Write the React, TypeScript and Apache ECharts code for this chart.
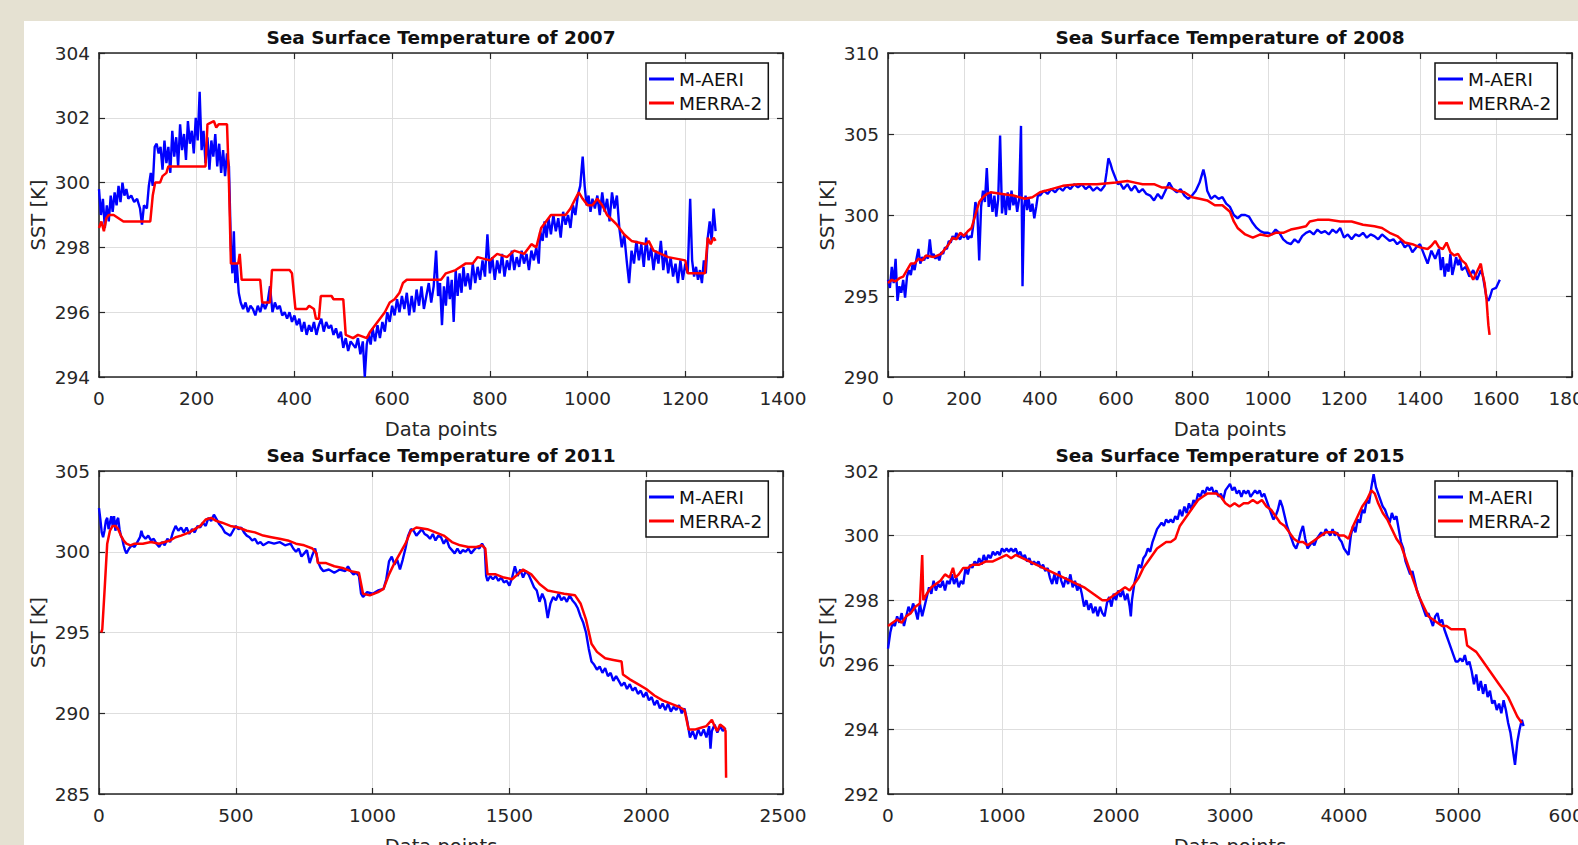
import React, { useEffect, useRef } from 'react';
import * as echarts from 'echarts';

// ---------- data ----------
const seriesNames = ['M-AERI', 'MERRA-2'];
const panelYears = ['2007', '2008', '2011', '2015'];
const xMaxes = [1400, 1800, 2500, 6000];
const xSteps = [200, 200, 500, 1000];
const yMins = [294, 290, 285, 292];
const yMaxes = [304, 310, 305, 302];
const ySteps = [2, 5, 5, 2];
const xAxisTitle = 'Data points';
const yAxisTitle = 'SST [K]';

const aeri2007: number[][] = [
  [0,299.8],[4,299.0],[8,299.5],[12,298.6],[16,299.3],[20,298.8],[24,299.6],[28,299.1],[32,299.7],[36,299.3],[40,299.9],[44,299.4],[48,300.0],[52,299.6],[56,299.8],[60,299.5],[66,299.6],[72,299.4],[78,299.5],[84,299.2],[88,298.7],[92,299.3],[98,299.2],[102,299.9],[106,300.3],[110,299.9],[114,301.1],[118,301.2],[122,300.9],[126,301.1],[130,300.4],[134,301.3],[138,300.6],[142,301.1],[146,300.3],[150,301.6],[154,300.8],[158,301.4],[162,300.5],[166,301.8],[170,301.0],[174,301.5],[178,300.7],[182,301.9],[186,301.2],[190,301.6],[194,300.9],[198,302.0],[202,301.3],[206,302.8],[210,301.0],[214,301.6],[218,300.6],[222,301.4],[226,300.4],[230,301.3],[234,300.8],[238,301.5],[242,300.5],[246,301.2],[250,300.3],[254,301.0],[258,300.2],[262,300.9],[266,300.5],[270,298.0],[273,297.2],[276,298.5],[279,296.9],[282,297.5],[286,296.6],[290,296.3],[295,296.1],[300,296.3],[305,296.0],[310,296.2],[315,296.1],[320,295.9],[325,296.2],[330,296.0],[335,296.3],[340,296.1],[345,296.3],[350,296.8],[355,296.0],[360,296.3],[365,296.1],[370,296.2],[375,295.9],[380,296.0],[385,295.8],[390,296.0],[395,295.7],[400,295.9],[405,295.6],[410,295.8],[415,295.4],[420,295.7],[425,295.3],[430,295.6],[435,295.4],[440,295.7],[445,295.3],[450,295.6],[455,295.8],[460,295.4],[465,295.7],[470,295.5],[475,295.6],[480,295.3],[485,295.5],[490,295.2],[495,295.4],[500,294.9],[505,295.2],[510,294.8],[515,295.1],[520,295.0],[525,294.9],[530,295.2],[535,294.7],[540,295.1],[544,294.0],[548,295.0],[552,295.3],[556,295.0],[560,295.5],[565,295.1],[570,295.6],[575,295.2],[580,295.7],[585,295.4],[590,296.0],[595,295.7],[600,296.2],[605,295.9],[610,296.4],[615,296.0],[620,296.5],[625,296.1],[630,296.6],[635,295.9],[640,296.5],[645,296.0],[650,296.7],[655,296.2],[660,296.8],[665,296.1],[670,296.5],[675,296.9],[680,296.3],[685,296.8],[690,297.9],[694,296.5],[698,296.9],[702,295.6],[706,296.8],[710,296.2],[714,297.1],[718,296.4],[722,297.0],[726,295.7],[730,297.3],[734,296.5],[738,297.2],[742,296.6],[746,297.4],[750,296.8],[755,297.2],[760,296.7],[765,297.5],[770,296.9],[775,297.4],[780,297.0],[785,297.6],[790,297.1],[795,298.4],[800,297.2],[805,297.7],[810,297.0],[815,297.6],[820,297.2],[825,297.8],[830,297.1],[835,297.6],[840,297.3],[845,297.9],[850,297.3],[855,297.7],[860,297.4],[865,297.9],[870,297.5],[875,297.8],[880,297.3],[885,297.9],[890,297.6],[895,298.0],[900,297.5],[903,298.5],[908,298.2],[912,298.8],[916,298.3],[920,298.9],[925,298.4],[930,299.0],[935,298.5],[940,298.9],[945,298.3],[950,299.1],[955,298.7],[960,299.0],[965,298.6],[970,299.3],[975,299.0],[980,299.6],[985,299.9],[990,300.8],[994,299.9],[998,299.3],[1002,299.6],[1006,299.1],[1010,299.5],[1015,299.2],[1020,299.6],[1025,299.0],[1030,299.7],[1035,299.1],[1040,299.5],[1045,298.8],[1050,299.7],[1055,299.2],[1060,299.6],[1065,298.6],[1070,298.0],[1075,298.4],[1080,297.6],[1085,296.9],[1090,297.9],[1095,297.5],[1100,298.2],[1105,297.6],[1110,298.1],[1115,297.4],[1120,298.3],[1125,297.6],[1130,298.0],[1135,297.3],[1140,297.9],[1145,297.5],[1150,298.2],[1155,297.3],[1160,297.9],[1165,297.2],[1170,297.7],[1175,297.1],[1180,297.5],[1185,296.9],[1190,297.6],[1195,297.0],[1200,297.5],[1205,297.2],[1210,299.5],[1214,297.6],[1218,297.1],[1222,297.4],[1226,297.0],[1230,297.3],[1234,296.9],[1238,297.6],[1242,297.2],[1246,298.3],[1250,298.8],[1254,298.2],[1258,299.2],[1262,298.5]
];
const merra2007: number[][] = [
  [0,298.6],[5,298.8],[10,298.5],[15,298.9],[20,299.0],[30,299.0],[40,298.9],[50,298.8],[105,298.8],[110,299.6],[115,300.0],[125,300.0],[130,300.2],[138,300.3],[142,300.5],[218,300.5],[222,301.8],[235,301.9],[240,301.7],[245,301.8],[262,301.8],[266,300.0],[270,297.5],[285,297.5],[288,297.8],[292,297.0],[330,297.0],[334,296.3],[350,296.3],[354,297.3],[390,297.3],[395,297.2],[402,296.1],[425,296.1],[430,296.2],[440,296.1],[444,295.8],[450,295.8],[454,296.5],[476,296.5],[480,296.4],[500,296.4],[505,295.3],[520,295.2],[530,295.3],[548,295.2],[555,295.4],[565,295.6],[575,295.8],[585,296.0],[595,296.3],[605,296.4],[615,296.6],[622,296.9],[630,297.0],[700,297.0],[710,297.2],[730,297.3],[750,297.5],[765,297.5],[775,297.7],[800,297.6],[815,297.8],[835,297.7],[850,297.9],[870,297.8],[885,298.1],[895,298.0],[905,298.6],[915,298.8],[925,299.0],[955,299.0],[965,299.2],[975,299.5],[982,299.7],[990,299.5],[1000,299.3],[1010,299.3],[1020,299.5],[1030,299.3],[1040,299.0],[1060,298.7],[1075,298.4],[1090,298.2],[1120,298.1],[1125,298.2],[1135,297.9],[1150,297.8],[1165,297.7],[1200,297.6],[1205,297.2],[1240,297.2],[1246,298.3],[1252,298.1],[1258,298.3],[1262,298.2]
];

const aeri2008: number[][] = [
  [0,296.0],[5,295.5],[10,296.8],[15,295.8],[20,297.3],[25,294.7],[30,295.6],[35,295.2],[40,296.0],[45,294.9],[50,296.2],[55,296.6],[60,296.3],[65,297.0],[70,296.6],[75,297.3],[80,297.9],[85,297.0],[90,297.4],[95,297.2],[100,297.5],[105,297.3],[110,298.5],[115,297.4],[120,297.6],[125,297.3],[130,297.5],[135,297.2],[140,297.7],[145,297.6],[150,298.0],[155,297.9],[160,298.4],[165,298.3],[170,298.7],[175,298.5],[180,298.9],[185,298.6],[190,298.5],[195,298.8],[200,298.6],[205,298.9],[210,298.5],[215,298.7],[220,298.6],[225,299.5],[230,300.8],[235,300.3],[240,297.2],[245,300.5],[250,301.5],[255,300.8],[260,302.9],[265,300.5],[270,301.4],[275,300.2],[280,301.2],[285,299.9],[290,301.0],[295,304.9],[300,300.1],[305,301.3],[310,300.0],[315,301.4],[320,300.3],[325,301.5],[330,300.6],[335,301.2],[340,300.2],[345,301.0],[350,305.5],[354,295.6],[358,300.5],[362,301.2],[366,300.3],[370,301.0],[375,300.2],[380,300.7],[385,299.8],[390,300.5],[395,301.3],[400,301.2],[410,301.5],[420,301.3],[430,301.6],[440,301.4],[450,301.7],[460,301.5],[470,301.8],[480,301.6],[490,301.9],[500,301.7],[510,301.9],[520,301.6],[530,301.8],[540,301.5],[550,301.7],[560,301.5],[570,301.8],[575,302.6],[580,303.5],[585,303.2],[590,302.8],[595,302.5],[600,302.2],[605,301.9],[610,302.0],[620,301.6],[630,301.9],[640,301.5],[650,301.8],[660,301.4],[670,301.6],[680,301.3],[690,301.2],[700,300.9],[710,301.3],[720,301.0],[730,301.5],[740,302.0],[750,301.6],[760,301.4],[770,301.6],[780,301.2],[790,301.0],[800,301.2],[810,301.5],[820,302.0],[830,302.8],[835,302.3],[840,301.5],[850,301.0],[860,301.2],[870,301.0],[880,301.1],[890,300.7],[900,300.5],[910,300.0],[920,299.8],[930,300.0],[940,300.0],[950,299.9],[960,299.5],[970,299.2],[980,299.0],[990,298.9],[1000,298.9],[1010,298.8],[1020,299.1],[1030,298.9],[1040,298.5],[1050,298.3],[1060,298.2],[1070,298.5],[1080,298.3],[1090,298.7],[1100,298.9],[1110,299.0],[1120,298.8],[1130,299.1],[1140,298.9],[1150,299.0],[1160,298.8],[1170,299.1],[1180,298.9],[1190,299.2],[1200,298.6],[1210,298.8],[1220,298.5],[1230,298.8],[1240,298.7],[1250,298.9],[1260,298.6],[1270,298.8],[1280,298.7],[1290,298.5],[1300,298.8],[1310,298.6],[1320,298.4],[1330,298.5],[1340,298.2],[1350,298.4],[1360,298.0],[1370,298.2],[1380,297.7],[1390,298.0],[1400,298.2],[1410,297.6],[1420,297.0],[1430,297.8],[1440,297.3],[1450,297.9],[1455,296.6],[1460,297.4],[1465,296.2],[1470,297.0],[1475,296.5],[1480,297.6],[1485,296.3],[1490,296.8],[1495,297.4],[1500,296.9],[1505,297.3],[1510,296.6],[1520,296.8],[1530,296.2],[1540,296.6],[1550,296.0],[1560,296.6],[1565,296.3],[1570,295.6],[1575,294.9],[1580,294.7],[1585,295.0],[1590,295.4],[1600,295.5],[1610,296.0]
];
const merra2008: number[][] = [
  [0,295.8],[10,296.0],[20,295.9],[30,296.1],[40,296.2],[50,296.6],[60,297.0],[70,297.0],[80,297.3],[90,297.2],[100,297.5],[120,297.4],[140,297.6],[150,297.9],[160,298.2],[170,298.6],[180,298.5],[190,298.9],[200,298.7],[210,299.0],[220,299.2],[230,300.0],[240,300.8],[250,301.1],[260,301.3],[270,301.4],[300,301.3],[330,301.2],[360,301.0],[380,301.1],[400,301.4],[430,301.6],[460,301.8],[500,301.9],[550,301.9],[600,302.0],[630,302.1],[650,302.0],[670,301.9],[700,301.9],[720,301.7],[740,301.7],[760,301.5],[780,301.4],[800,301.1],[820,301.0],[840,300.9],[860,300.6],[880,300.6],[900,300.2],[910,299.6],[920,299.2],[940,298.8],[960,298.6],[980,298.8],[1000,298.7],[1020,298.9],[1040,298.9],[1060,299.1],[1080,299.2],[1100,299.3],[1110,299.6],[1130,299.7],[1160,299.7],[1190,299.6],[1220,299.6],[1250,299.4],[1280,299.3],[1300,299.2],[1320,298.9],[1340,298.7],[1360,298.3],[1380,298.2],[1400,298.0],[1420,297.9],[1430,298.1],[1440,298.4],[1450,298.0],[1460,297.9],[1470,298.3],[1480,297.7],[1490,297.5],[1500,297.6],[1510,297.2],[1520,297.0],[1530,296.5],[1540,296.0],[1550,296.5],[1560,297.0],[1565,296.3],[1570,295.8],[1575,294.8],[1578,293.8],[1580,293.2],[1583,292.6]
];

const aeri2011: number[][] = [
  [0,302.7],[5,302.0],[10,301.2],[15,300.9],[20,301.3],[25,301.9],[30,302.1],[35,301.4],[40,301.8],[45,302.2],[50,301.6],[55,302.2],[60,301.3],[65,301.9],[70,302.1],[75,301.4],[80,301.0],[85,300.8],[90,300.4],[95,300.1],[100,299.9],[110,300.2],[120,300.4],[130,300.3],[140,300.6],[150,300.9],[155,301.3],[160,301.0],[170,300.8],[180,301.0],[190,300.7],[200,300.8],[210,300.5],[220,300.3],[230,300.6],[240,300.4],[250,300.8],[260,300.6],[270,301.2],[280,301.6],[290,301.3],[300,301.5],[310,301.2],[320,301.5],[330,301.1],[340,301.4],[350,301.2],[360,301.6],[370,301.5],[380,301.8],[390,301.6],[400,302.1],[410,301.9],[420,302.3],[430,302.0],[440,301.7],[450,301.5],[460,301.2],[470,301.1],[480,301.0],[490,301.3],[500,301.6],[510,301.4],[520,301.5],[530,301.2],[540,301.0],[550,300.9],[560,300.7],[570,300.8],[580,300.5],[590,300.6],[600,300.4],[620,300.6],[640,300.5],[660,300.6],[680,300.4],[700,300.5],[710,300.2],[720,300.0],[730,300.2],[740,299.7],[750,299.9],[760,300.1],[770,299.3],[780,299.8],[790,300.2],[800,299.4],[810,299.0],[820,298.8],[840,298.9],[860,298.7],[880,298.9],[900,298.8],[910,299.1],[920,298.8],[930,298.6],[940,298.7],[950,298.5],[958,297.4],[965,297.2],[980,297.5],[1000,297.4],[1020,297.6],[1040,297.7],[1050,298.3],[1060,299.4],[1070,299.7],[1080,299.2],[1090,299.5],[1100,298.9],[1110,299.5],[1120,300.2],[1130,301.0],[1140,301.4],[1150,301.3],[1160,301.0],[1170,301.2],[1180,301.4],[1190,301.1],[1200,301.0],[1210,300.8],[1220,301.1],[1230,300.7],[1240,301.0],[1250,300.9],[1260,300.5],[1270,300.8],[1280,300.3],[1290,300.1],[1300,299.9],[1310,300.2],[1320,299.9],[1330,300.1],[1340,300.0],[1350,300.2],[1360,299.9],[1370,300.1],[1380,300.3],[1390,300.2],[1400,300.5],[1410,300.2],[1415,298.5],[1420,298.2],[1430,298.5],[1440,298.3],[1450,298.5],[1460,298.2],[1470,298.4],[1480,298.1],[1490,298.2],[1500,297.9],[1510,298.4],[1520,299.1],[1530,298.5],[1540,298.9],[1550,298.4],[1560,298.8],[1570,298.6],[1580,298.2],[1590,297.8],[1600,297.6],[1610,296.9],[1620,297.4],[1630,297.0],[1640,295.9],[1650,296.8],[1660,297.2],[1670,297.0],[1680,297.4],[1690,297.0],[1700,297.2],[1710,296.9],[1720,297.3],[1730,297.0],[1740,296.8],[1750,296.5],[1760,296.0],[1770,295.6],[1780,295.0],[1790,294.0],[1800,293.2],[1810,293.0],[1820,292.7],[1830,292.9],[1840,292.5],[1850,292.8],[1860,292.3],[1870,292.5],[1880,292.0],[1890,292.3],[1900,292.0],[1910,291.7],[1920,291.9],[1930,291.5],[1940,291.8],[1950,291.4],[1960,291.6],[1970,291.2],[1980,291.4],[1990,291.0],[2000,291.3],[2010,290.8],[2020,291.0],[2030,290.5],[2040,290.8],[2050,290.3],[2060,290.6],[2070,290.2],[2080,290.6],[2090,290.1],[2100,290.4],[2110,290.2],[2120,290.5],[2130,290.0],[2140,290.3],[2150,289.5],[2160,288.5],[2170,288.9],[2180,288.4],[2190,289.0],[2200,288.6],[2210,289.0],[2220,288.5],[2230,289.2],[2235,287.8],[2240,288.9],[2250,289.3],[2260,288.8],[2270,289.2],[2280,288.9],[2290,289.1]
];
const merra2011: number[][] = [
  [8,295.0],[12,295.2],[20,297.5],[30,300.5],[40,301.3],[50,301.6],[60,301.6],[70,301.4],[80,301.0],[90,300.7],[100,300.5],[115,300.4],[130,300.5],[160,300.5],[190,300.6],[220,300.5],[240,300.6],[260,300.7],[280,300.9],[300,301.0],[330,301.2],[350,301.4],[370,301.6],[390,302.0],[410,302.1],[430,301.9],[450,301.8],[480,301.6],[510,301.5],[540,301.3],[570,301.2],[600,301.0],[630,300.9],[660,300.8],[690,300.7],[720,300.5],[750,300.4],[780,300.2],[795,299.9],[800,299.3],[830,299.3],[860,299.1],[890,299.0],[920,298.8],[950,298.7],[965,297.4],[990,297.3],[1020,297.5],[1040,297.7],[1060,298.6],[1080,299.3],[1100,299.9],[1120,300.5],[1140,301.3],[1160,301.5],[1200,301.4],[1230,301.2],[1260,301.0],[1290,300.6],[1320,300.4],[1350,300.3],[1380,300.3],[1400,300.4],[1412,300.2],[1420,298.6],[1450,298.6],[1480,298.4],[1510,298.3],[1530,298.6],[1550,298.9],[1580,298.6],[1610,298.0],[1640,297.6],[1670,297.5],[1700,297.4],[1740,297.3],[1760,296.8],[1780,295.8],[1800,294.3],[1820,293.8],[1850,293.4],[1880,293.3],[1910,293.2],[1915,292.4],[1940,292.1],[1970,291.8],[2000,291.5],[2030,291.1],[2060,290.8],[2090,290.6],[2120,290.4],[2140,290.2],[2155,289.0],[2180,289.0],[2200,289.1],[2220,289.2],[2240,289.6],[2250,289.2],[2260,288.9],[2270,289.3],[2285,289.1],[2290,288.9],[2292,286.0]
];

const aeri2015: number[][] = [
  [0,296.5],[20,297.0],[40,297.3],[60,297.2],[80,297.5],[100,297.3],[120,297.6],[140,297.2],[160,297.5],[180,297.8],[200,297.6],[220,297.9],[240,297.7],[260,297.4],[280,297.9],[300,297.5],[320,297.8],[340,298.1],[360,298.4],[380,298.2],[400,298.6],[420,298.3],[440,298.5],[460,298.4],[480,298.6],[500,298.3],[520,298.6],[540,298.5],[560,298.8],[580,298.5],[600,298.7],[620,298.4],[640,298.6],[660,298.5],[680,299.0],[700,298.8],[720,299.1],[740,299.0],[760,299.2],[780,299.1],[800,299.3],[820,299.1],[840,299.4],[860,299.2],[880,299.4],[900,299.3],[920,299.5],[940,299.4],[960,299.5],[980,299.4],[1000,299.6],[1020,299.5],[1040,299.6],[1060,299.5],[1080,299.6],[1100,299.5],[1120,299.6],[1140,299.4],[1160,299.5],[1180,299.3],[1200,299.4],[1220,299.2],[1240,299.3],[1260,299.1],[1280,299.2],[1300,299.1],[1320,299.2],[1340,299.0],[1360,299.1],[1380,298.9],[1400,299.0],[1420,298.7],[1440,298.5],[1460,298.8],[1480,298.5],[1500,298.9],[1520,298.6],[1540,298.4],[1560,298.7],[1580,298.5],[1600,298.8],[1620,298.4],[1640,298.6],[1660,298.3],[1680,298.5],[1700,298.2],[1720,297.8],[1740,298.0],[1760,297.7],[1780,297.9],[1800,297.6],[1820,297.8],[1840,297.5],[1860,297.8],[1880,297.6],[1900,297.5],[1920,297.9],[1940,298.1],[1960,297.8],[1980,298.2],[2000,298.0],[2020,298.3],[2040,298.1],[2060,298.3],[2080,298.0],[2100,298.2],[2120,297.8],[2130,297.5],[2140,298.0],[2160,298.5],[2180,298.8],[2200,299.1],[2220,299.0],[2240,299.3],[2260,299.4],[2280,299.6],[2300,299.5],[2320,299.8],[2340,300.0],[2360,300.2],[2380,300.3],[2400,300.4],[2420,300.3],[2440,300.5],[2460,300.4],[2480,300.5],[2500,300.4],[2520,300.6],[2540,300.5],[2560,300.8],[2580,300.6],[2600,300.9],[2620,300.7],[2640,301.0],[2660,300.8],[2680,301.1],[2700,301.0],[2720,301.3],[2740,301.2],[2760,301.4],[2780,301.3],[2800,301.5],[2820,301.4],[2840,301.5],[2860,301.3],[2880,301.4],[2900,301.2],[2920,301.3],[2940,301.1],[2960,301.4],[2980,301.5],[3000,301.6],[3020,301.4],[3040,301.5],[3060,301.3],[3080,301.4],[3100,301.2],[3120,301.4],[3140,301.3],[3160,301.4],[3180,301.2],[3200,301.3],[3220,301.4],[3240,301.3],[3260,301.4],[3280,301.2],[3300,301.3],[3320,301.1],[3340,300.9],[3360,300.7],[3380,300.5],[3400,300.6],[3420,300.8],[3440,301.1],[3460,300.9],[3480,300.6],[3500,300.3],[3520,300.1],[3540,299.9],[3560,299.7],[3580,299.6],[3600,299.8],[3620,300.1],[3640,300.3],[3660,299.9],[3680,299.6],[3700,299.7],[3720,299.8],[3740,299.7],[3760,299.9],[3780,300.0],[3800,300.1],[3820,300.0],[3840,300.2],[3860,300.1],[3880,300.0],[3900,300.2],[3920,300.0],[3940,300.1],[3960,299.9],[3980,299.8],[4000,299.6],[4020,299.5],[4040,299.4],[4060,300.0],[4080,300.3],[4100,300.1],[4120,300.5],[4140,300.4],[4160,300.8],[4180,300.7],[4200,301.1],[4220,301.0],[4240,301.5],[4260,301.9],[4280,301.5],[4300,301.3],[4320,301.1],[4340,300.9],[4360,300.8],[4380,300.6],[4400,300.4],[4420,300.7],[4440,300.5],[4460,300.6],[4480,300.2],[4500,299.8],[4520,299.6],[4540,299.2],[4560,299.0],[4580,298.8],[4600,298.9],[4620,298.6],[4640,298.3],[4660,298.1],[4680,297.9],[4700,297.7],[4720,297.5],[4740,297.6],[4760,297.4],[4780,297.2],[4800,297.5],[4820,297.6],[4840,297.3],[4860,297.4],[4880,297.1],[4900,296.9],[4920,296.7],[4940,296.5],[4960,296.3],[4980,296.1],[5000,296.1],[5020,296.2],[5040,296.1],[5060,296.3],[5080,296.0],[5100,296.1],[5120,295.8],[5140,295.4],[5160,295.7],[5180,295.2],[5200,295.5],[5220,295.1],[5240,295.4],[5260,295.0],[5280,295.2],[5300,294.8],[5320,294.9],[5340,294.6],[5360,294.8],[5380,294.5],[5400,294.9],[5420,294.6],[5440,294.2],[5460,293.9],[5480,293.4],[5500,292.9],[5520,293.6],[5540,294.0],[5560,294.3],[5575,294.1]
];
const merra2015: number[][] = [
  [0,297.2],[40,297.3],[80,297.4],[120,297.3],[160,297.5],[200,297.6],[240,297.8],[280,297.9],[300,299.4],[310,298.0],[340,298.2],[380,298.4],[420,298.5],[460,298.6],[500,298.8],[540,298.7],[570,299.0],[590,298.7],[620,298.8],[660,299.0],[700,299.0],[740,299.1],[800,299.1],[860,299.2],[920,299.2],[980,299.3],[1040,299.4],[1080,299.3],[1120,299.4],[1180,299.3],[1240,299.2],[1300,299.1],[1360,299.0],[1420,298.9],[1480,298.8],[1540,298.7],[1600,298.6],[1660,298.5],[1720,298.4],[1760,298.3],[1800,298.2],[1840,298.1],[1880,298.0],[1920,298.0],[1960,298.1],[2000,298.2],[2040,298.3],[2080,298.4],[2120,298.3],[2160,298.5],[2200,298.7],[2240,299.0],[2280,299.2],[2320,299.4],[2360,299.6],[2400,299.7],[2440,299.8],[2480,299.8],[2520,299.9],[2540,300.1],[2560,300.3],[2600,300.5],[2640,300.7],[2680,300.9],[2720,301.1],[2760,301.2],[2800,301.3],[2840,301.3],[2880,301.3],[2920,301.2],[2960,301.0],[3000,300.9],[3040,301.0],[3080,300.9],[3120,301.0],[3160,301.0],[3200,301.1],[3240,301.0],[3280,301.1],[3320,300.9],[3360,300.8],[3400,300.6],[3440,300.4],[3480,300.3],[3520,300.1],[3560,299.9],[3600,299.8],[3640,299.8],[3680,299.7],[3720,299.8],[3760,299.9],[3800,300.0],[3840,300.1],[3880,300.1],[3920,300.1],[3960,300.0],[4000,300.0],[4040,299.9],[4080,300.3],[4120,300.6],[4160,300.9],[4200,301.1],[4240,301.4],[4270,301.3],[4300,301.0],[4340,300.7],[4380,300.5],[4420,300.2],[4460,299.9],[4500,299.7],[4540,299.3],[4580,298.9],[4620,298.5],[4660,298.1],[4700,297.8],[4740,297.5],[4780,297.4],[4820,297.3],[4860,297.2],[4900,297.2],[4940,297.1],[4980,297.1],[5020,297.1],[5060,297.1],[5080,296.6],[5120,296.5],[5160,296.4],[5200,296.2],[5240,296.0],[5280,295.8],[5320,295.6],[5360,295.4],[5400,295.2],[5440,295.0],[5480,294.7],[5520,294.4],[5560,294.2]
];

const aeriSets = [aeri2007, aeri2008, aeri2011, aeri2015];
const merraSets = [merra2007, merra2008, merra2011, merra2015];

// ---------- layout / style ----------
const FONT = '"DejaVu Sans", Arial, sans-serif';
const INK = '#262626';
const gridBoxes = [
  { left: 99, top: 53, width: 684, height: 324 },
  { left: 888, top: 53, width: 684, height: 324 },
  { left: 99, top: 471, width: 684, height: 323 },
  { left: 888, top: 471, width: 684, height: 323 },
];

const plain = (v: number) => String(v);

function buildOption() {
  const grid: any[] = [];
  const xAxis: any[] = [];
  const yAxis: any[] = [];
  const series: any[] = [];
  const legend: any[] = [];
  const graphic: any[] = [];

  gridBoxes.forEach((g, i) => {
    grid.push({ ...g, containLabel: false, outerBoundsMode: 'none' });
    const axLine = { show: true, onZero: false, lineStyle: { color: INK, width: 1.6 } };
    const tick = { show: true, inside: true, length: 6, lineStyle: { color: INK, width: 1.2 } };
    const split = { show: true, lineStyle: { color: '#dedede', width: 1 } };
    const label = { fontSize: 18.5, fontFamily: FONT, color: INK, formatter: plain };
    xAxis.push({
      gridIndex: i, type: 'value', position: 'bottom', min: 0, max: xMaxes[i], interval: xSteps[i],
      axisLine: axLine, axisTick: tick, splitLine: split,
      axisLabel: { ...label, margin: 12 },
      name: xAxisTitle, nameLocation: 'middle', nameGap: 42,
      nameTextStyle: { fontSize: 19.5, fontFamily: FONT, color: INK },
    });
    xAxis.push({
      gridIndex: i, type: 'value', position: 'top', min: 0, max: xMaxes[i], interval: xSteps[i],
      axisLine: axLine, axisTick: tick, splitLine: { show: false }, axisLabel: { show: false },
    });
    yAxis.push({
      gridIndex: i, type: 'value', position: 'left', min: yMins[i], max: yMaxes[i], interval: ySteps[i],
      axisLine: axLine, axisTick: tick, splitLine: split,
      axisLabel: { ...label, margin: 9 },
      name: yAxisTitle, nameLocation: 'middle', nameGap: 51,
      nameTextStyle: { fontSize: 19.5, fontFamily: FONT, color: INK },
    });
    yAxis.push({
      gridIndex: i, type: 'value', position: 'right', min: yMins[i], max: yMaxes[i], interval: ySteps[i],
      axisLine: axLine, axisTick: tick, splitLine: { show: false }, axisLabel: { show: false },
    });
    series.push({
      name: seriesNames[0], type: 'line', xAxisIndex: i * 2, yAxisIndex: i * 2,
      data: aeriSets[i], showSymbol: false, symbol: 'none', clip: true,
      lineStyle: { color: '#0000ff', width: 2.4 }, itemStyle: { color: '#0000ff' }, z: 3,
    });
    series.push({
      name: seriesNames[1], type: 'line', xAxisIndex: i * 2, yAxisIndex: i * 2,
      data: merraSets[i], showSymbol: false, symbol: 'none', clip: true,
      lineStyle: { color: '#ff0000', width: 2.5 }, itemStyle: { color: '#ff0000' }, z: 4,
    });
    legend.push({
      left: g.left + 547, top: g.top + 10, orient: 'vertical',
      data: seriesNames.map((n) => ({ name: n, icon: 'rect' })),
      itemWidth: 25, itemHeight: 3, itemGap: 4,
      padding: [6, 6, 6, 3], backgroundColor: '#ffffff', borderColor: '#111', borderWidth: 1.5,
      borderRadius: 0, selectedMode: false,
      textStyle: { fontSize: 18.5, fontFamily: FONT, color: '#111', lineHeight: 20 },
    });
    graphic.push({
      type: 'text', x: g.left + g.width / 2, y: g.top - 16, z: 10,
      style: {
        text: 'Sea Surface Temperature of ' + panelYears[i],
        fill: '#111', font: 'bold 18.5px ' + FONT,
        textAlign: 'center', textVerticalAlign: 'middle', align: 'center', verticalAlign: 'middle',
      },
    });
  });

  return {
    animation: false,
    backgroundColor: 'transparent',
    grid, xAxis, yAxis, series, legend, graphic,
  };
}

export default function App() {
  const ref = useRef<HTMLDivElement>(null);
  useEffect(() => {
    const chart = echarts.init(ref.current as HTMLDivElement, null, { renderer: 'svg' });
    chart.setOption(buildOption() as any);
    return () => chart.dispose();
  }, []);
  return (
    <div style={{ position: 'fixed', left: 0, top: 0, width: 1578, height: 845, background: '#e5e1d2', overflow: 'hidden' }}>
      <div style={{ position: 'absolute', left: 24, top: 21, right: 0, bottom: 0, background: '#ffffff' }} />
      <div ref={ref} style={{ position: 'absolute', left: 0, top: 0, width: 1578, height: 845 }} />
    </div>
  );
}
